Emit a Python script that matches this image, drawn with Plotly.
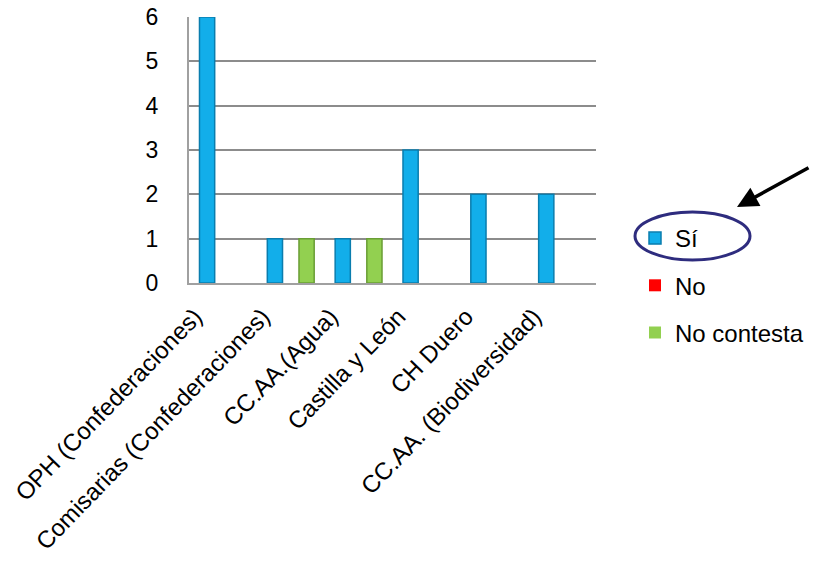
import plotly.graph_objects as go

categories = ["OPH (Confederaciones)", "Comisarias (Confederaciones)", "CC.AA.(Agua)",
              "Castilla y León", "CH Duero", "CC.AA. (Biodiversidad)"]
si_values = [6, 1, 1, 3, 2, 2]
no_values = [0, 0, 0, 0, 0, 0]
nc_values = [0, 1, 1, 0, 0, 0]
y_ticks = [0, 1, 2, 3, 4, 5, 6]

FONT = "Arial, Liberation Sans, sans-serif"
W, H = 819, 571
# plot area in screen pixels: x 189..596, y 17..283
L, T = 189, 17
R = W - 596
B = H - 283
pw, ph = W - L - R, H - T - B

def px(x):  # screen px -> paper
    return (x - L) / pw

def py(y):
    return (H - B - y) / ph

def edge_widths(vals, w=1.5):
    return [w if v > 0 else 0 for v in vals]

fig = go.Figure()
fig.add_bar(x=categories, y=si_values, name="Sí", legendgroup="a",
            marker=dict(color="#12AEEA",
                        line=dict(color="#0A7DAE", width=edge_widths(si_values))))
fig.add_bar(x=categories, y=no_values, name="No", legendgroup="b",
            marker=dict(color="#FF0000", line=dict(width=0)))
fig.add_bar(x=categories, y=nc_values, name="No contesta", legendgroup="c",
            marker=dict(color="#92D050",
                        line=dict(color="#6A9E35", width=edge_widths(nc_values))))

fig.update_layout(
    width=W, height=H,
    margin=dict(l=L, r=R, t=T, b=B, autoexpand=False),
    paper_bgcolor="white", plot_bgcolor="white",
    barmode="group", bargap=0.3, bargroupgap=0.04,
    font=dict(family=FONT, color="black"),
    legend=dict(x=px(635), y=py(216), xanchor="left", yanchor="top",
                font=dict(size=24, family=FONT), tracegroupgap=13, itemwidth=30,
                bgcolor="rgba(0,0,0,0)"),
    showlegend=True,
)
fig.update_yaxes(range=[0, 6], tickvals=y_ticks, showgrid=True, gridcolor="#8C8C8C",
                 gridwidth=2, zeroline=False, showline=True, linecolor="#A0A0A0",
                 linewidth=2, ticks="", ticklabelstandoff=24, ticklabeloverflow="allow",
                 tickfont=dict(size=23, family=FONT, color="black"))
fig.update_xaxes(showgrid=False, showline=True, linecolor="#A0A0A0", linewidth=2,
                 tickangle=-46, ticks="", ticklabelshift=-28, ticklabelstandoff=8,
                 ticklabeloverflow="allow",
                 tickfont=dict(size=24, family=FONT, color="black"))

# highlight ellipse and arrow around the "Sí" legend entry
fig.add_shape(type="circle", xref="paper", yref="paper",
              x0=px(635), x1=px(750), y0=py(260), y1=py(212),
              line=dict(color="#2E2C7E", width=3))
fig.add_annotation(xref="paper", yref="paper", x=px(737), y=py(207),
                   ax=73, ay=-40, showarrow=True, arrowhead=2, arrowsize=1.2,
                   arrowwidth=3.5, arrowcolor="black", text="")

fig.write_html("out.html", config={"displayModeBar": False},
               post_script="document.body.style.margin='0';document.body.style.overflow='hidden';")
